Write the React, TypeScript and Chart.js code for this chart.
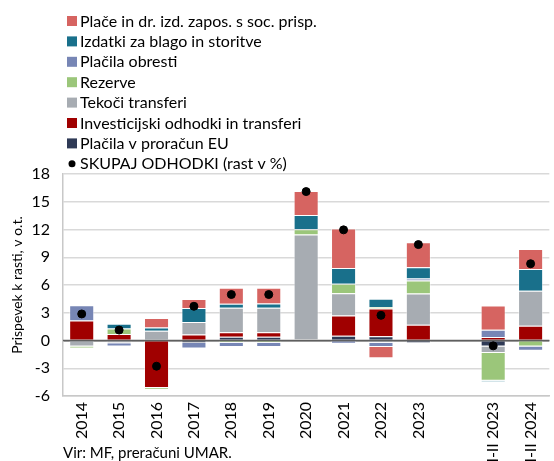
import React, { useEffect, useRef } from "react";
import { Chart, registerables } from "chart.js";
Chart.register(...registerables);

const categories = ["2014", "2015", "2016", "2017", "2018", "2019", "2020", "2021", "2022", "2023", "", "I-II 2023", "I-II 2024"];
const euPayments = [0, 0, 0, -0.28, 0.4, 0.4, 0, 0.51, 0.45, -0.3, null, -0.65, 0];
const investment = [2.17, 0.7, -5.13, 0.65, 0.48, 0.5, 0.1, 2.2, 3.0, 1.7, null, 0.37, 1.6];
const currentTransfers = [-0.65, -0.3, 1.05, 1.35, 2.65, 2.65, 11.35, 2.39, -0.25, 3.37, null, -0.7, 3.77];
const reserves = [-0.2, 0.6, -0.15, 0, -0.25, -0.25, 0.58, 1.04, 0.17, 1.41, null, -3.0, -0.65];
const interest = [1.63, -0.35, 0, -0.58, -0.45, -0.45, 0, -0.35, -0.45, 0.22, null, 0.8, -0.46];
const goodsServices = [0, 0.5, 0.35, 1.52, 0.43, 0.45, 1.55, 1.7, 0.9, 1.23, null, -0.12, 2.36];
const wages = [0, 0, 1.02, 0.98, 1.74, 1.7, 2.58, 4.28, -1.23, 2.68, null, 2.61, 2.17];
const totalGrowth = [2.87, 1.13, -2.78, 3.7, 4.97, 4.97, 16.1, 11.96, 2.72, 10.37, null, -0.58, 8.3];

const yTitle = "Prispevek k rasti, v o.t.";
const sourceText = "Vir: MF, preračuni UMAR.";
const FONT = "Lato";

const legendPlugin = {
  id: "customLegend",
  beforeDatasetDraw(chart: any, args: any) {
    if (args.meta.type !== "line") return;
    const ctx = chart.ctx;
    const y0 = chart.scales.y.getPixelForValue(0);
    ctx.save();
    ctx.strokeStyle = "#5F5F5F";
    ctx.lineWidth = 1.5;
    ctx.beginPath();
    ctx.moveTo(chart.chartArea.left, y0);
    ctx.lineTo(chart.chartArea.right, y0);
    ctx.stroke();
    ctx.restore();
  },
  afterDraw(chart: any) {
    const ctx = chart.ctx;
    const ds = chart.data.datasets;
    ctx.save();
    ctx.font = `16px ${FONT}`;
    ctx.fillStyle = "#000";
    ctx.textBaseline = "middle";
    ctx.textAlign = "left";
    const bars = ds.filter((d: any) => d.type !== "line").slice().reverse();
    const line = ds.find((d: any) => d.type === "line");
    const items = [...bars, line];
    items.forEach((d: any, i: number) => {
      const y = 21 + i * 20.4;
      if (d.type === "line") {
        ctx.beginPath();
        ctx.arc(72, y, 3.5, 0, Math.PI * 2);
        ctx.fillStyle = "#000";
        ctx.fill();
      } else {
        ctx.fillStyle = d.backgroundColor;
        ctx.fillRect(67, y - 5, 10, 10);
      }
      ctx.fillStyle = "#000";
      ctx.fillText(d.label, 80, y + 0.5);
    });
    ctx.font = `15px ${FONT}`;
    ctx.fillText(sourceText, 63, 453);
    ctx.restore();
  },
};

export default function App() {
  const ref = useRef<HTMLCanvasElement>(null);
  useEffect(() => {
    if (!ref.current) return;
    Chart.defaults.font.family = FONT;
    Chart.defaults.color = "#000";
    const border = { borderWidth: 1, borderColor: "rgba(255,255,255,0.45)" };
    const chart = new Chart(ref.current, {
      type: "bar",
      data: {
        labels: categories,
        datasets: [
          { type: "line", label: "SKUPAJ ODHODKI (rast v %)", data: totalGrowth, showLine: false, pointRadius: 4, pointBackgroundColor: "#000", pointBorderColor: "#000", borderColor: "#000", backgroundColor: "#000", stack: "total", order: -1 } as any,
          { label: "Plačila v proračun EU", data: euPayments, backgroundColor: "#2F3A56", stack: "s", ...border },
          { label: "Investicijski odhodki in transferi", data: investment, backgroundColor: "#A00000", stack: "s", ...border },
          { label: "Tekoči transferi", data: currentTransfers, backgroundColor: "#A7ACB2", stack: "s", ...border },
          { label: "Rezerve", data: reserves, backgroundColor: "#9BC67A", stack: "s", ...border },
          { label: "Plačila obresti", data: interest, backgroundColor: "#7786B5", stack: "s", ...border },
          { label: "Izdatki za blago in storitve", data: goodsServices, backgroundColor: "#19708B", stack: "s", ...border },
          { label: "Plače in dr. izd. zapos. s soc. prisp.", data: wages, backgroundColor: "#D66461", stack: "s", ...border },
        ],
      },
      options: {
        animation: false,
        responsive: false,
        devicePixelRatio: 1,
        layout: { padding: { top: 174, right: 0, bottom: 0, left: 0 } },
        datasets: { bar: { categoryPercentage: 1, barPercentage: 0.67 } },
        plugins: { legend: { display: false }, tooltip: { enabled: false } },
        scales: {
          x: {
            stacked: true,
            grid: { display: false, drawTicks: false },
            border: { display: true, color: "#C8C8C8", width: 1.5 },
            ticks: { minRotation: 90, maxRotation: 90, padding: 6, font: { size: 16 }, autoSkip: false },
            afterFit: (s: any) => { s.height = 65; },
          },
          y: {
            stacked: true,
            min: -6,
            max: 18,
            ticks: { stepSize: 3, padding: 13, font: { size: 16 } },
            grid: {
              drawTicks: false,
              lineWidth: 1.5,
              color: (c: any) => (c.tick && c.tick.value === 0 ? "#5F5F5F" : "#D9D9D9"),
            },
            border: { display: true, color: "#C8C8C8", width: 1.5 },
            title: { display: true, text: yTitle, font: { size: 14 }, padding: { top: 9, bottom: 0 } },
            afterFit: (s: any) => { s.width = 63; },
          },
        },
      },
      plugins: [legendPlugin],
    });
    return () => chart.destroy();
  }, []);
  return (
    <div style={{ position: "fixed", left: 0, top: 0, width: 554, height: 461, overflow: "hidden", background: "#fff" }}>
      <canvas ref={ref} width={556} height={461} style={{ width: 556, height: 461, display: "block" }} />
    </div>
  );
}
